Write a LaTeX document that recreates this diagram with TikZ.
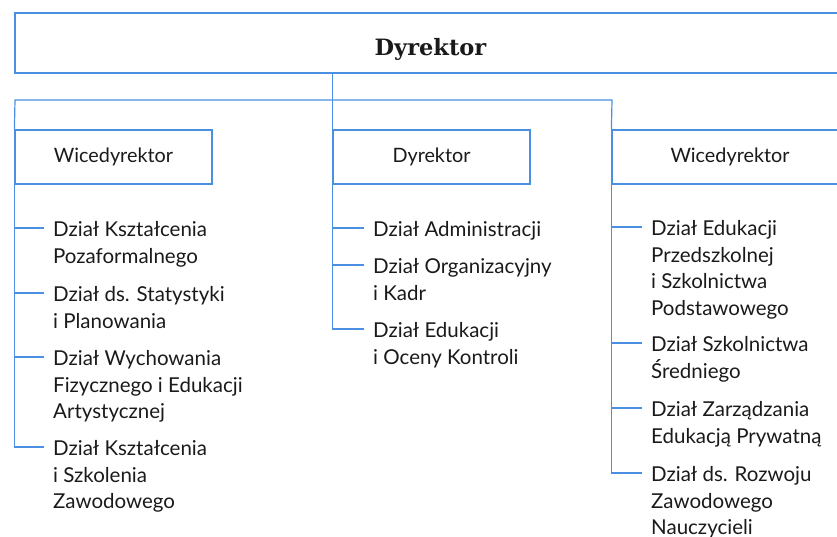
\documentclass[tikz,border=0pt]{standalone}
\usepackage{fontspec}
\setmainfont{Lato}
\newfontfamily\titlefont{DejaVu Serif}
\usetikzlibrary{calc}
\definecolor{lineBlue}{HTML}{4A90E2}
\definecolor{textDark}{HTML}{1A1A1A}
\tikzset{
    TitleText/.style={font=\titlefont\bfseries\fontsize{22.5}{26}\selectfont, text=textDark, text height=26pt, text depth=2pt},
    BoxText/.style={font=\fontsize{19.8}{24}\selectfont, text=textDark},
    DeptText/.style={font=\fontsize{20.5}{26.7}\selectfont, text=textDark, align=left, anchor=north west, inner sep=0pt},
    BoxLine/.style={draw=lineBlue, line width=1.2pt, minimum height=54pt},
    Link/.style={lineBlue, line width=1.2pt}
}
\begin{document}
\begin{tikzpicture}[x=1pt, y=-1pt]
    \useasboundingbox (0,0) rectangle (837,536);

    % gorna belka
    \node[BoxLine, minimum width=831pt, minimum height=60pt, TitleText] (dyr) at (430.5,43) {Dyrektor};

    % pion kierownictwa
    \node[BoxLine, minimum width=197pt, BoxText] (wl) at (113.5,157) {Wicedyrektor};
    \node[BoxLine, minimum width=197pt, BoxText] (dm) at (431.5,157) {Dyrektor};
    \node[BoxLine, minimum width=236pt, BoxText] (wr) at (730,157) {Wicedyrektor};

    \coordinate (busL) at (15,100);
    \coordinate (busR) at (612,100);
    \draw[Link] (wl.north west) -- (busL) -- (busR) -- (wr.north west);
    \draw[Link] (dyr.south -| dm.west) -- (dm.north west);

    % dzialy po lewej
    \node[DeptText] (l1) at (53,221) {Dział Kształcenia\\Pozaformalnego};
    \node[DeptText] (l2) at (53,286) {Dział ds. Statystyki\\i Planowania};
    \node[DeptText] (l3) at (53,350) {Dział Wychowania\\Fizycznego i Edukacji\\Artystycznej};
    \node[DeptText] (l4) at (53,440) {Dział Kształcenia\\i Szkolenia\\Zawodowego};

    % dzialy w srodku
    \node[DeptText] (m1) at (373,221) {Dział Administracji};
    \node[DeptText] (m2) at (373,258) {Dział Organizacyjny\\i Kadr};
    \node[DeptText] (m3) at (373,322) {Dział Edukacji\\i Oceny Kontroli};

    % dzialy po prawej
    \node[DeptText] (r1) at (651,220) {Dział Edukacji\\Przedszkolnej\\i Szkolnictwa\\Podstawowego};
    \node[DeptText] (r2) at (651,336) {Dział Szkolnictwa\\Średniego};
    \node[DeptText] (r3) at (651,401) {Dział Zarządzania\\Edukacją Prywatną};
    \node[DeptText] (r4) at (651,466) {Dział ds. Rozwoju\\Zawodowego\\Nauczycieli};

    \foreach \d in {l1,l2,l3,l4}
        \draw[Link] ($(\d.north west)+(-9pt,-7pt)$) -| (wl.south west);
    \foreach \d in {m1,m2,m3}
        \draw[Link] ($(\d.north west)+(-9pt,-7pt)$) -| (dm.south west);
    \foreach \d in {r1,r2,r3,r4}
        \draw[Link] ($(\d.north west)+(-9pt,-7pt)$) -| (wr.south west);
\end{tikzpicture}
\end{document}
